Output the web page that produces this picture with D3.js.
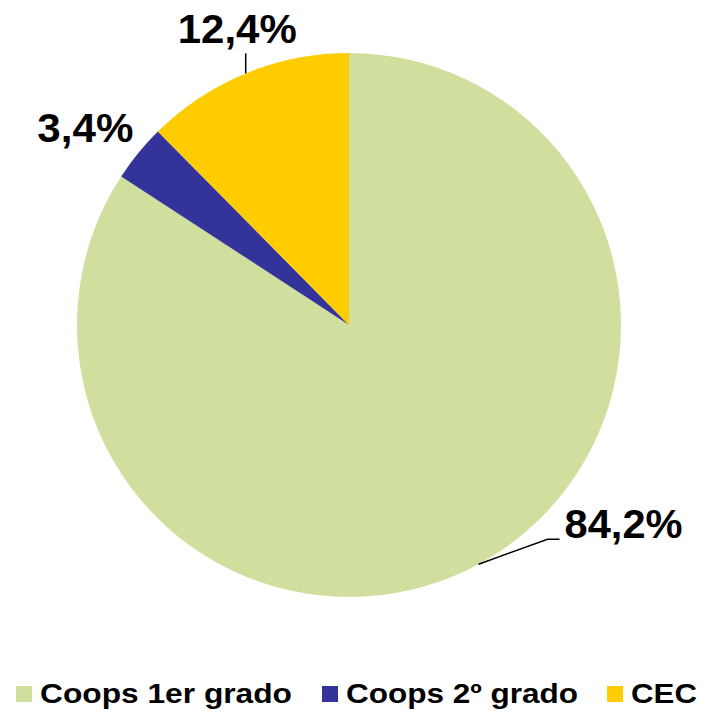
<!DOCTYPE html>
<html>
<head>
<meta charset="utf-8">
<script src="https://cdn.jsdelivr.net/npm/d3@7"></script>
<style>
    body { margin: 0; background: #ffffff; }
    text { font-family: Arial, "Liberation Sans", sans-serif; font-weight: bold; }
</style>
</head>
<body>
<script>
// chart data
var categories = ["Coops 1er grado", "Coops 2º grado", "CEC"];
var shares = [84.2, 3.4, 12.4];
var labels = ["84,2%", "3,4%", "12,4%"];
var colors = ["#D1DF9E", "#333399", "#FFCC00"];

var width = 701, height = 711;
var cx = 349, cy = 325, radius = 272;

var svg = d3.select("body").append("svg")
    .attr("width", width)
    .attr("height", height);

var data = categories.map(function(c, i) {
    return {key: c, value: shares[i], label: labels[i], color: colors[i]};
});

// pie starts at 12 o'clock and goes clockwise, no sorting
var pie = d3.pie().sort(null).value(function(d) { return d.value; });
var arc = d3.arc().innerRadius(0).outerRadius(radius);
var arcs = pie(data);

var g = svg.append("g")
    .attr("transform", "translate(" + cx + "," + cy + ")");

g.selectAll("path")
    .data(arcs)
    .enter()
    .append("path")
    .attr("d", arc)
    .attr("fill", function(d) { return d.data.color; });

// point on the rim at the middle of a slice
function rimPoint(d, r) {
    var a = (d.startAngle + d.endAngle) / 2;
    return [Math.sin(a) * r, -Math.cos(a) * r];
}

// label layout: offsets of the text (and leader line) from the rim point
var labelLayout = [
    {line: [[69, -25], [81, -25]], text: [86, -26], len: 118},
    {line: null, text: [-101, -11], len: 96},
    {line: [[0, -20]], text: [-68, -30], len: 119}
];

arcs.forEach(function(d, i) {
    var p = rimPoint(d, radius);
    var lay = labelLayout[i];
    if (lay.line) {
        var pts = [p].concat(lay.line.map(function(o) {
            return [p[0] + o[0], p[1] + o[1]];
        }));
        g.append("path")
            .attr("d", d3.line()(pts))
            .attr("fill", "none")
            .attr("stroke", "#000")
            .attr("stroke-width", 1.5);
    }
    g.append("text")
        .attr("x", p[0] + lay.text[0])
        .attr("y", p[1] + lay.text[1])
        .attr("font-size", "40px")
        .attr("textLength", lay.len)
        .attr("lengthAdjust", "spacingAndGlyphs")
        .text(d.data.label);
});

// legend along the bottom
var legendX = [16, 322, 607];
var legendLen = [252, 232, 66];

var legend = svg.selectAll(".legend")
    .data(data)
    .enter()
    .append("g")
    .attr("class", "legend")
    .attr("transform", function(d, i) {
        return "translate(" + legendX[i] + ",686)";
    });

legend.append("rect")
    .attr("width", 16)
    .attr("height", 16)
    .attr("fill", function(d) { return d.color; });

legend.append("text")
    .attr("x", 24)
    .attr("y", 17)
    .attr("font-size", "27px")
    .attr("textLength", function(d, i) { return legendLen[i]; })
    .attr("lengthAdjust", "spacingAndGlyphs")
    .text(function(d) { return d.key; });
</script>
</body>
</html>
